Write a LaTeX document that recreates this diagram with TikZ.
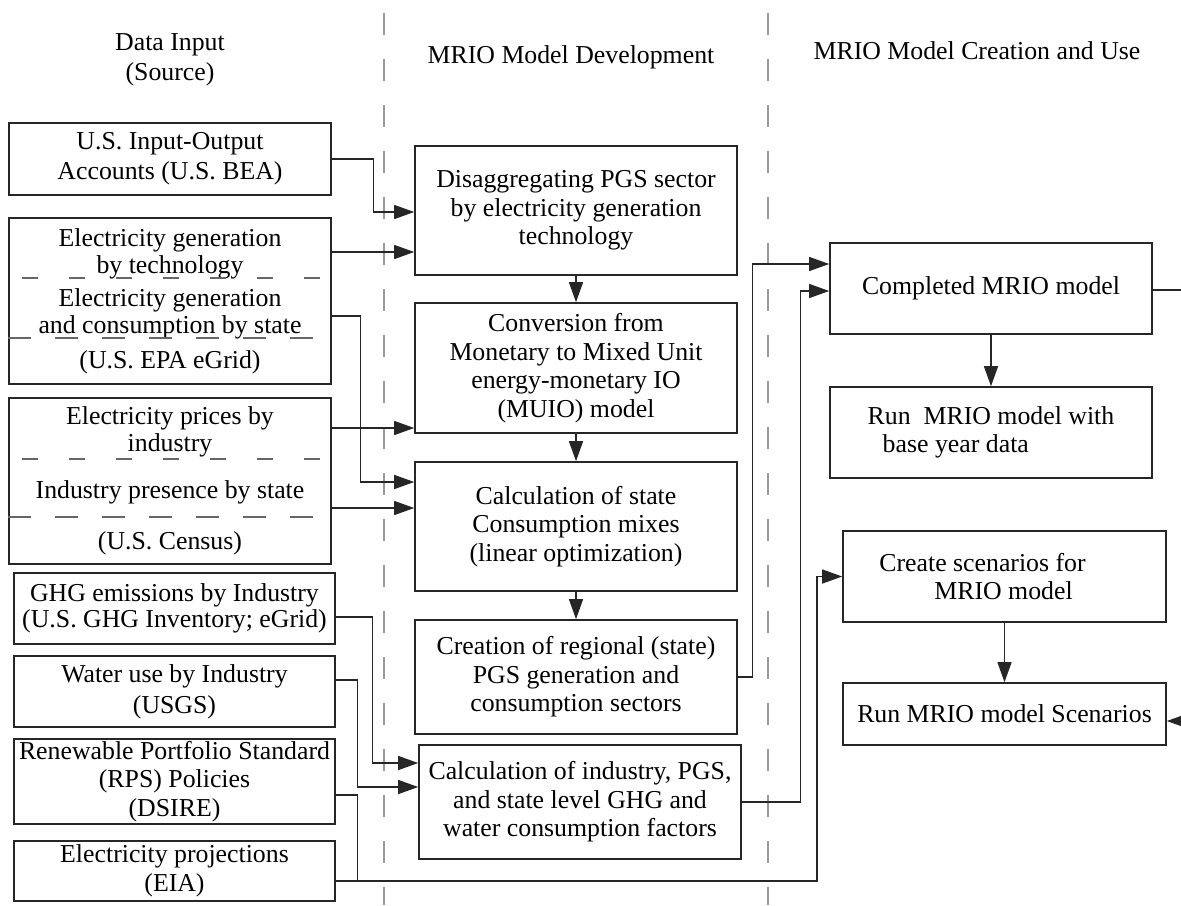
\documentclass[tikz,border=0pt]{standalone}
\usepackage{fontspec}
\setmainfont{Liberation Serif}
\usetikzlibrary{arrows.meta}

\begin{document}
\begin{tikzpicture}[x=0.5pt, y=-0.5pt,
  font=\fontsize{12.9}{14.3}\selectfont,
  box/.style={draw=black!85, line width=0.8pt, align=center, inner sep=0pt, minimum width=161pt},
  conn/.style={draw=black!85, line width=0.6pt, -{Triangle[length=10pt,width=7pt]}},
  wire/.style={draw=black!85, line width=0.6pt},
  divider/.style={draw=black!40, line width=0.7pt, dash pattern=on 11pt off 12pt},
  sepa/.style={draw=black!60, line width=0.6pt, dash pattern=on 8pt off 15.5pt},
  sepb/.style={draw=black!60, line width=0.6pt, dash pattern=on 11.5pt off 12pt}]

\useasboundingbox (0,0) rectangle (1181,905);
\clip (0,0) rectangle (1181,905);
\fill[white] (0,0) rectangle (1181,905);

% column dividers
\draw[divider] (384,13) -- (384,905);
\draw[divider] (768,13) -- (768,905);

% headings
\node[align=center] (hdata) at (170,60) {Data Input\\[0.7pt](Source)};
\node (hdev) at (571,57) {MRIO Model Development};
\node (huse) at (977,51) {MRIO Model Creation and Use};

% data input boxes
\node[box, minimum height=36pt] (io) at (170,159) {U.S. Input-Output\\[0.7pt]Accounts (U.S. BEA)};
\node[box, minimum height=83pt] (egrid) at (170,301) {Electricity generation\\[-0.8pt]by technology\\[2.2pt]Electricity generation\\[-0.8pt]and consumption by state\\[3.2pt](U.S. EPA eGrid)};
\node[box, minimum height=83pt] (census) at (170,481) {Electricity prices by\\[-0.8pt]industry\\[9.2pt]Industry presence by state\\[11.2pt](U.S. Census)};
\node[box, minimum width=160.5pt, minimum height=35.5pt] (ghg) at (174.5,608.5) {GHG emissions by Industry\\[-1.5pt](U.S. GHG Inventory; eGrid)};
\node[box, minimum width=160.5pt, minimum height=35.5pt] (water) at (174.5,691.5) {Water use by Industry\\[1pt](USGS)};
\node[box, minimum width=160.5pt, minimum height=42.5pt] (rps) at (174.5,781.5) {Renewable Portfolio Standard\\(RPS) Policies\\(DSIRE)};
\node[box, minimum width=160.5pt, minimum height=30pt] (eia) at (174.5,871) {Electricity projections\\(EIA)};

\draw[sepa] (22,278) -- (327,278);
\draw[sepb] (8,338) -- (327,338);
\draw[sepa] (22,459) -- (327,459);
\draw[sepb] (8,517) -- (327,517);

% model development boxes
\node[box, minimum height=64.5pt] (dis) at (576,210.5) {Disaggregating PGS sector\\by electricity generation\\technology};
\node[box, minimum height=65pt] (muio) at (576,368) {Conversion from\\Monetary to Mixed Unit\\energy-monetary IO\\(MUIO) model};
\node[box, minimum height=64.5pt] (mix) at (576,526.5) {Calculation of state\\Consumption mixes\\(linear optimization)};
\node[box, minimum height=57pt] (region) at (576,677) {Creation of regional (state)\\PGS generation and\\consumption sectors};
\node[box, minimum height=57pt] (factor) at (580,802) {Calculation of industry, PGS,\\and state level GHG and\\water consumption factors};

% creation and use boxes
\node[box, minimum height=45.5pt] (done) at (991,288.5) {Completed MRIO model};
\node[box, minimum height=45.5pt, align=left] (base) at (991,432.5) {Run~ MRIO model with\\\hspace*{7.5pt}base year data};
\node[box, minimum width=161.5pt, minimum height=45.5pt, align=left] (scen) at (1004.5,576.5) {Create scenarios for\hspace*{22pt}\\\hspace*{27.5pt}MRIO model};
\node[box, minimum width=161.5pt, minimum height=31pt] (runs) at (1004.5,714) {Run MRIO model Scenarios};

% inputs to development
\draw[conn] (io.east) -- ++(42,0) |- (dis.west |- 0,212);
\draw[conn] (egrid.east |- 0,252) -- (dis.west |- 0,252);
\draw[conn] (egrid.east |- 0,316) -- ++(29,0) |- (mix.west |- 0,482);
\draw[conn] (census.east |- 0,428) -- (muio.west |- 0,428);
\draw[conn] (census.east |- 0,508) -- (mix.west |- 0,508);
\draw[conn] (ghg.east |- 0,617) -- ++(37,0) |- (factor.west |- 0,763);
\draw[conn] (water.east |- 0,680) -- ++(22,0) |- (factor.west |- 0,787);
\coordinate (eiaturn) at (817,881);
\draw[conn] (eia.east |- 0,881) -- (eiaturn) |- (scen.west);
\draw[wire] (rps.east |- 0,795) -- ++(22,0) |- (eiaturn);

% development chain
\draw[conn] (dis) -- (muio);
\draw[conn] (muio) -- (mix);
\draw[conn] (mix) -- (region);

% into the model
\draw[conn] (region.east) -- ++(15,0) |- (done.west |- 0,264);
\draw[conn] (factor.east) -- ++(59,0) |- (done.west |- 0,291);
\draw[conn] (done) -- (base);
\draw[conn] (scen) -- (runs);
\coordinate (offedge) at (1200,290);
\draw[conn] (done.east |- 0,290) -- (offedge) |- (runs.east |- 0,721);
\end{tikzpicture}
\end{document}
